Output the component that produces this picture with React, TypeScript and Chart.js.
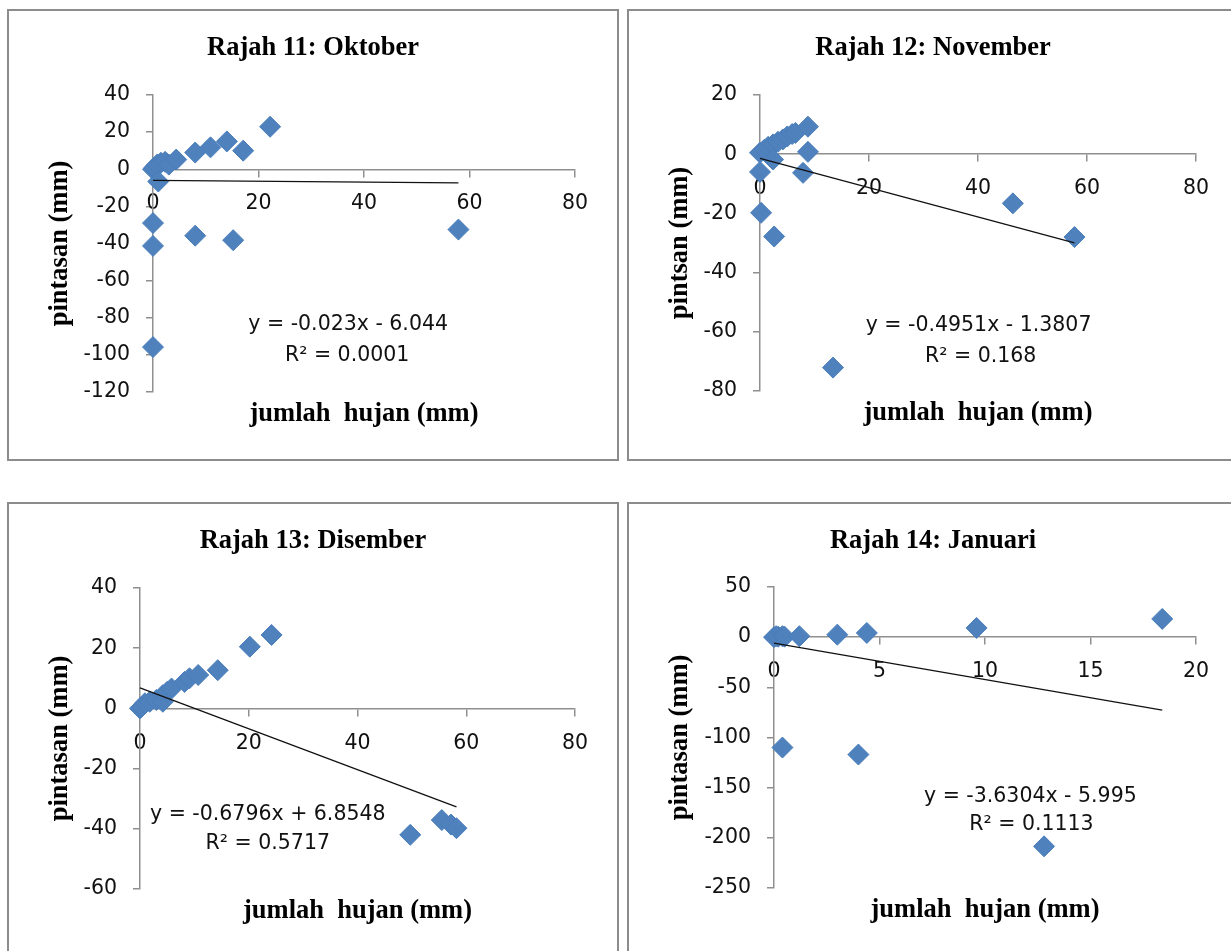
import React, { useEffect, useRef } from 'react';
import { Chart, registerables } from 'chart.js';

Chart.register(...registerables);

// ---------- Data ----------
// Rajah 11: Oktober
const oktX = [0, 0.3, 0.8, 1.5, 2.3, 3.0, 4.4, 1.0, 8.0, 10.9, 14.0, 17.1, 22.2, 0, 0, 8.0, 15.2, 57.9, 0];
const oktY = [0, 1, 2.5, 3.5, 4, 2.5, 5.2, -6.6, 9, 11.8, 15, 10, 22.9, -29, -41.3, -35.8, -38.2, -32.5, -95.8];
const oktXTicks = [0, 20, 40, 60, 80];
const oktYTicks = [-120, -100, -80, -60, -40, -20, 0, 20, 40];

// Rajah 12: November
const novX = [0, 0.8, 1.5, 2.4, 3.3, 4.2, 5.0, 5.9, 6.5, 8.8, 8.8, 7.9, 0, 0.2, 2.6, 2.4, 46.4, 57.7, 13.4];
const novY = [0.5, 1.5, 2.5, 3.3, 4.2, 5.0, 6.0, 6.8, 7.2, 9.3, 0.8, -6.3, -6.0, -19.8, -27.8, -1.8, -16.6, -28.0, -72.1];
const novXTicks = [0, 20, 40, 60, 80];
const novYTicks = [-80, -60, -40, -20, 0, 20];

// Rajah 13: Disember
const disX = [0, 0.3, 0.9, 1.8, 3.0, 4.2, 4.2, 5.0, 5.8, 8.2, 9.1, 10.7, 14.3, 20.2, 24.2, 49.7, 55.5, 57.2, 58.2];
const disY = [0, 0.5, 1.7, 2.2, 2.8, 4.4, 2.2, 5.5, 6.6, 8.8, 10, 11.1, 12.7, 20.5, 24.4, -42, -37.1, -38.6, -39.8];
const disXTicks = [0, 20, 40, 60, 80];
const disYTicks = [-60, -40, -20, 0, 20, 40];

// Rajah 14: Januari
const janX = [0, 0.1, 0.2, 0.4, 0.5, 1.2, 3.0, 4.4, 9.6, 18.4, 0.4, 4.0, 12.8];
const janY = [0, 1, 0.5, 1, 0.5, 1, 2.5, 4.2, 9.2, 18.2, -110, -117, -208.5];
const janXTicks = [0, 5, 10, 15, 20];
const janYTicks = [-250, -200, -150, -100, -50, 0, 50];

// Trendline coefficients (from the equations shown)
const oktTrend = [-0.023, -6.044];
const novTrend = [-0.4951, -1.3807];
const disTrend = [-0.6796, 6.8548];
const janTrend = [-3.6304, -5.995];

// Labels
const titles = ['Rajah 11: Oktober', 'Rajah 12: November', 'Rajah 13: Disember', 'Rajah 14: Januari'];
const yTitles = ['pintasan (mm)', 'pintsan (mm)', 'pintasan (mm)', 'pintasan (mm)'];
const xTitle = 'jumlah  hujan (mm)';
const eqTexts = ['y = -0.023x - 6.044', 'y = -0.4951x - 1.3807', 'y = -0.6796x + 6.8548', 'y = -3.6304x - 5.995'];
const r2Texts = ['R² = 0.0001', 'R² = 0.168', 'R² = 0.5717', 'R² = 0.1113'];
// label anchors in data units [x, y] for the equation line and the R² line
const eqAnchors = [[37, -82.6], [40.1, -57.1], [23.5, -34.75], [12.15, -157]];
const r2Anchors = [[36.8, -99.4], [40.5, -67.6], [23.5, -44.3], [12.2, -185.2]];

// ---------- Layout (page pixels) ----------
const BOX_W = 612;
const BOX_H = 452;
const boxes = [
  { left: 7, top: 9 },
  { left: 627, top: 9 },
  { left: 7, top: 502 },
  { left: 627, top: 502 },
];
const areas = [
  { left: 153, top: 95, right: 575, bottom: 392 },
  { left: 760, top: 95, right: 1196, bottom: 391 },
  { left: 140, top: 588, right: 575, bottom: 889 },
  { left: 774, top: 587, right: 1196, bottom: 888 },
];

const AXIS_COLOR = '#8f8f8f';
const MARKER = '#4F81BD';
const TICK_FONT = { family: '"DejaVu Sans", sans-serif', size: 20.5 };
const SERIF = 'bold 26.5px "Liberation Serif", "Times New Roman", serif';
const SANS = '20.5px "DejaVu Sans", sans-serif';

type PanelCfg = {
  idx: number;
  xs: number[];
  ys: number[];
  xTicks: number[];
  yTicks: number[];
  trend: number[];
};

const panels: PanelCfg[] = [
  { idx: 0, xs: oktX, ys: oktY, xTicks: oktXTicks, yTicks: oktYTicks, trend: oktTrend },
  { idx: 1, xs: novX, ys: novY, xTicks: novXTicks, yTicks: novYTicks, trend: novTrend },
  { idx: 2, xs: disX, ys: disY, xTicks: disXTicks, yTicks: disYTicks, trend: disTrend },
  { idx: 3, xs: janX, ys: janY, xTicks: janXTicks, yTicks: janYTicks, trend: janTrend },
];

function Panel({ cfg }: { cfg: PanelCfg }) {
  const ref = useRef<HTMLCanvasElement>(null);
  const box = boxes[cfg.idx];
  const area = areas[cfg.idx];

  useEffect(() => {
    if (!ref.current) return;
    const YW = 82;
    const cl = area.left - box.left;
    const ct = area.top - box.top;
    const cr = area.right - box.left;
    const cb = area.bottom - box.top;

    const pts = cfg.xs.map((x, i) => ({ x, y: cfg.ys[i] }));
    const xmin = Math.min(...cfg.xs);
    const xmax = Math.max(...cfg.xs);
    const [m, b] = cfg.trend;
    const trendPts = [
      { x: xmin, y: m * xmin + b },
      { x: xmax, y: m * xmax + b },
    ];

    const textPlugin = {
      id: 'panelText',
      afterDraw(chart: any) {
        const ctx = chart.ctx as CanvasRenderingContext2D;
        const ca = chart.chartArea;
        const sx = chart.scales.x;
        const sy = chart.scales.y;
        ctx.save();
        ctx.fillStyle = '#000';
        ctx.textAlign = 'center';
        ctx.textBaseline = 'alphabetic';
        ctx.font = SERIF;
        ctx.fillText(titles[cfg.idx], BOX_W / 2, 45.5);
        ctx.fillText(xTitle, (ca.left + ca.right) / 2, ca.bottom + 29);
        ctx.save();
        ctx.translate(60, (ca.top + ca.bottom) / 2);
        ctx.rotate(-Math.PI / 2);
        ctx.fillText(yTitles[cfg.idx], 0, 0);
        ctx.restore();
        ctx.font = SANS;
        ctx.fillStyle = '#111';
        const e = eqAnchors[cfg.idx];
        const r = r2Anchors[cfg.idx];
        ctx.fillText(eqTexts[cfg.idx], sx.getPixelForValue(e[0]), sy.getPixelForValue(e[1]) + 7.5);
        ctx.fillText(r2Texts[cfg.idx], sx.getPixelForValue(r[0]), sy.getPixelForValue(r[1]) + 7.5);
        ctx.restore();
      },
    };

    const xt = cfg.xTicks;
    const yt = cfg.yTicks;

    const chart = new Chart(ref.current, {
      type: 'scatter',
      data: {
        datasets: [
          {
            label: 'trend',
            data: trendPts,
            showLine: true,
            borderColor: '#111',
            borderWidth: 1.3,
            pointRadius: 0,
            order: 0,
            clip: false as any,
          },
          {
            label: 'pintasan',
            data: pts,
            pointStyle: 'rectRot',
            pointRadius: 10.5,
            backgroundColor: MARKER,
            borderColor: '#4A7EBB',
            borderWidth: 1,
            order: 1,
            clip: false as any,
          },
        ],
      },
      options: {
        animation: false,
        responsive: false,
        devicePixelRatio: 1,
        events: [],
        layout: {
          padding: {
            left: cl - YW,
            top: ct,
            right: BOX_W - cr,
            bottom: BOX_H - cb,
          },
        },
        plugins: {
          legend: { display: false },
          tooltip: { enabled: false },
          title: { display: false },
        },
        scales: {
          x: {
            type: 'linear',
            position: { y: 0 } as any,
            min: xt[0],
            max: xt[xt.length - 1],
            ticks: {
              stepSize: xt[1] - xt[0],
              autoSkip: false,
              padding: 15.5,
              color: '#111',
              font: TICK_FONT,
              maxRotation: 0,
            },
            grid: {
              drawOnChartArea: false,
              drawTicks: true,
              tickLength: 7,
              color: AXIS_COLOR,
              lineWidth: 1.5,
            },
            border: { display: true, color: AXIS_COLOR, width: 1.5 },
          },
          y: {
            type: 'linear',
            position: 'left',
            min: yt[0],
            max: yt[yt.length - 1],
            ticks: {
              stepSize: yt[1] - yt[0],
              autoSkip: false,
              padding: 16,
              color: '#111',
              font: TICK_FONT,
            },
            grid: {
              drawOnChartArea: false,
              drawTicks: true,
              tickLength: 7,
              color: AXIS_COLOR,
              lineWidth: 1.5,
            },
            border: { display: true, color: AXIS_COLOR, width: 1.5 },
            afterFit: (s: any) => {
              s.width = YW;
            },
          },
        },
      } as any,
      plugins: [textPlugin],
    });
    return () => chart.destroy();
  }, []);

  return (
    <>
      <div
        style={{
          position: 'absolute',
          left: box.left,
          top: box.top,
          width: BOX_W,
          height: BOX_H,
          border: '2px solid #8c8c8c',
          boxSizing: 'border-box',
          background: '#fff',
        }}
      />
      <canvas
        ref={ref}
        width={BOX_W}
        height={BOX_H}
        style={{ position: 'absolute', left: box.left, top: box.top, width: BOX_W, height: BOX_H }}
      />
    </>
  );
}

export default function App() {
  return (
    <div
      style={{
        position: 'absolute',
        left: 0,
        top: 0,
        width: 1231,
        height: 951,
        overflow: 'hidden',
        background: '#fff',
      }}
    >
      {panels.map((p) => (
        <Panel key={p.idx} cfg={p} />
      ))}
    </div>
  );
}
